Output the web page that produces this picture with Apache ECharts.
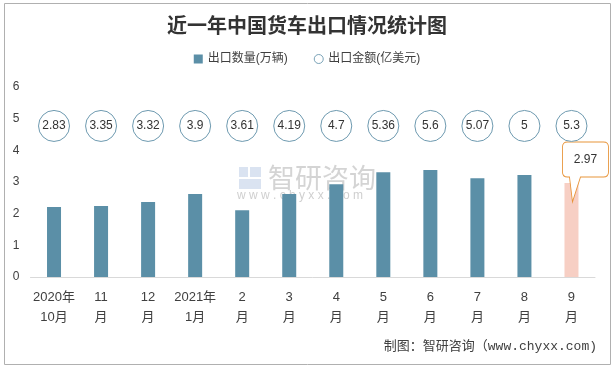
<!DOCTYPE html>
<html>
<head>
<meta charset="utf-8">
<script src="https://cdn.jsdelivr.net/npm/echarts@6/dist/echarts.min.js"></script>
<style>html,body{margin:0;padding:0;background:#fff}#c{width:614px;height:369px}</style>
</head>
<body>
<div id="c"></div>
<script>
const categories = ['2020年\n10月','11\n月','12\n月','2021年\n1月','2\n月','3\n月','4\n月','5\n月','6\n月','7\n月','8\n月','9\n月'];
const volume = [2.21, 2.24, 2.37, 2.62, 2.11, 2.62, 2.93, 3.31, 3.38, 3.12, 3.22, 2.97];
const amount = [2.83, 3.35, 3.32, 3.9, 3.61, 4.19, 4.7, 5.36, 5.6, 5.07, 5, 5.3];
const yTicks = [0, 1, 2, 3, 4, 5, 6];

const LABEL_ROW = 4.77; // layout row where the amount bubbles sit
const SANS = "'Liberation Sans','Noto Sans CJK SC',sans-serif";
const last = volume.length - 1;

const chart = echarts.init(document.getElementById('c'), null, {renderer: 'canvas'});
chart.setOption({
  animation: false,
  backgroundColor: '#fff',
  title: {
    text: '近一年中国货车出口情况统计图',
    left: 'center', top: 15, padding: 0,
    textStyle: {fontSize: 20, fontWeight: 'bold', color: '#333', fontFamily: "'Noto Sans CJK SC',serif"}
  },
  legend: {
    top: 53, left: 'center', padding: 0, itemGap: 26, itemWidth: 9, itemHeight: 9,
    textStyle: {fontSize: 12, color: '#404040', fontFamily: SANS},
    data: [{name: '出口数量(万辆)', icon: 'rect'}, {name: '出口金额(亿美元)', icon: 'circle', itemStyle: {color: '#fff', borderColor: '#7AA3B8', borderWidth: 1}}]
  },
  grid: {left: 30.5, right: 19, top: 87, bottom: 92},
  xAxis: {
    type: 'category', data: categories,
    axisLine: {lineStyle: {color: '#D9D9D9'}},
    axisTick: {show: false},
    axisLabel: {margin: 10, fontSize: 13, lineHeight: 20, color: '#404040', fontFamily: SANS, interval: 0}
  },
  yAxis: {
    type: 'value', min: yTicks[0], max: yTicks[yTicks.length - 1], interval: 1,
    axisLine: {show: false}, axisTick: {show: false}, splitLine: {show: false},
    axisLabel: {margin: 11, fontSize: 12, color: '#404040', fontFamily: SANS}
  },
  graphic: [
    {type: 'rect', shape: {x: 4.5, y: 3.5, width: 606, height: 361}, style: {fill: 'none', stroke: '#B0B0B0', lineWidth: 1}, z: 100},
    {type: 'rect', shape: {x: 239, y: 167, width: 9, height: 10}, style: {fill: 'rgba(150,175,215,0.35)'}, z: 0},
    {type: 'rect', shape: {x: 250, y: 167, width: 11, height: 10}, style: {fill: 'rgba(150,175,215,0.35)'}, z: 0},
    {type: 'rect', shape: {x: 239, y: 179, width: 22, height: 10}, style: {fill: 'rgba(150,175,215,0.35)'}, z: 0},
    {type: 'text', left: 268, top: 164, style: {text: '智研咨询', fontSize: 27, fill: 'rgba(160,160,160,0.45)', fontFamily: "'Noto Sans CJK SC',sans-serif"}, z: 0},
    {type: 'text', left: 237, top: 190, style: {text: 'w w w . c h y x x . c o m', fontSize: 12, fill: 'rgba(160,160,160,0.5)', fontFamily: SANS}, z: 0},
    {type: 'text', right: 17, top: 340, style: {text: '制图：智研咨询（www.chyxx.com)', fontSize: 13, fill: '#404040', fontFamily: "'Liberation Mono','Noto Sans CJK SC',monospace"}}
  ],
  series: [
    {
      name: '出口数量(万辆)', type: 'bar', barWidth: 14,
      itemStyle: {color: '#5B8FA7'},
      data: volume.map((v, i) => i === last ? {value: v, itemStyle: {color: '#F7CFC4'}} : v),
      markPoint: {
        symbol: 'path://M5,0 L41,0 Q46,0 46,5 L46,30 Q46,35 41,35 L18,35 L10,60 L7,35 L5,35 Q0,35 0,30 L0,5 Q0,0 5,0 Z',
        symbolSize: [46, 60], symbolOffset: [14, -11], symbolKeepAspect: false,
        itemStyle: {color: '#fff', borderColor: '#E8953A', borderWidth: 1},
        label: {show: true, position: 'inside', offset: [0, -12], fontSize: 12, color: '#333', fontFamily: SANS, formatter: String(volume[last])},
        data: [{coord: [last, volume[last]]}]
      }
    },
    {
      name: '出口金额(亿美元)', type: 'scatter', symbol: 'circle', symbolSize: 31,
      itemStyle: {color: '#fff', borderColor: '#6E9AB0', borderWidth: 1, opacity: 1},
      label: {show: true, position: 'inside', fontSize: 12, color: '#333', fontFamily: SANS, formatter: p => p.value[2]},
      data: amount.map((v, i) => [i, LABEL_ROW, v]),
      z: 5
    }
  ]
});
</script>
</body>
</html>
